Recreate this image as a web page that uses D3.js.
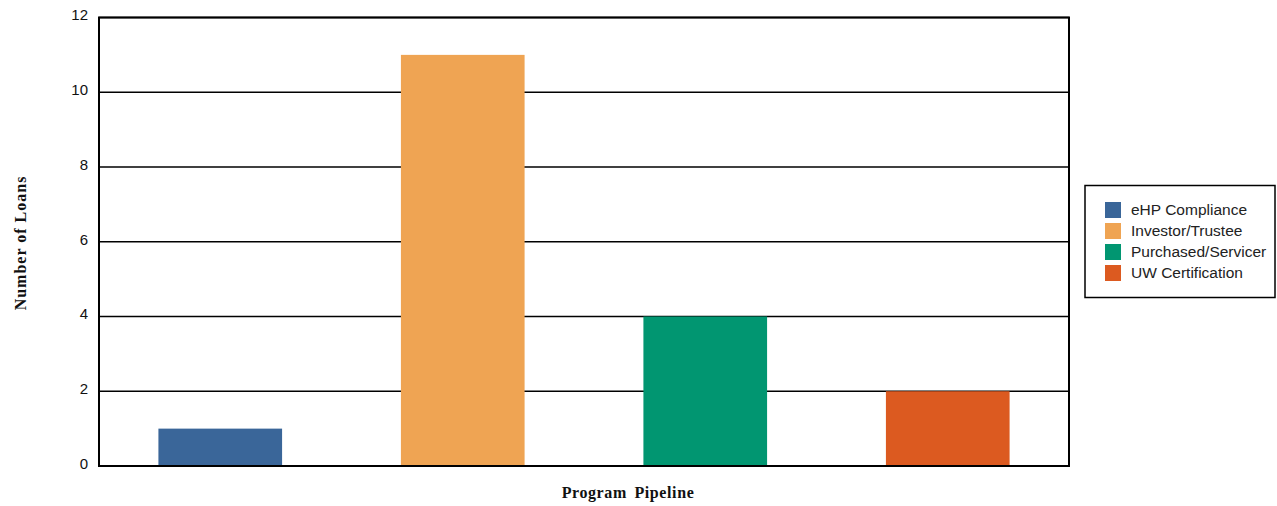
<!DOCTYPE html>
<html>
<head>
<meta charset="utf-8">
<script src="https://cdn.jsdelivr.net/npm/d3@7"></script>
<style>
  html, body { margin: 0; padding: 0; background: #fff; }
  svg { display: block; }
</style>
</head>
<body>
<svg id="chart" width="1277" height="506"></svg>
<script>
// Loan counts per program pipeline stage
const categories = ["eHP Compliance", "Investor/Trustee", "Purchased/Servicer", "UW Certification"];
const loanCounts = [1, 11, 4, 2];
const barColors = ["#3A6699", "#EFA453", "#019671", "#DC5A20"];
const yTicks = [0, 2, 4, 6, 8, 10, 12];

const svg = d3.select("#chart");
const plot = { left: 99, right: 1069, top: 17.5, bottom: 466 };

const x = d3.scaleBand()
  .domain(categories)
  .range([plot.left, plot.right])
  .paddingInner(0.49)
  .paddingOuter(0.245);

const y = d3.scaleLinear()
  .domain([0, 12])
  .range([plot.bottom, plot.top]);

// Horizontal gridlines
svg.append("g")
  .selectAll("line")
  .data(yTicks)
  .join("line")
  .attr("x1", plot.left)
  .attr("x2", plot.right)
  .attr("y1", d => y(d))
  .attr("y2", d => y(d))
  .attr("stroke", "#000")
  .attr("stroke-width", 1.5);

// Bars
svg.append("g")
  .selectAll("rect")
  .data(categories)
  .join("rect")
  .attr("x", d => x(d))
  .attr("width", x.bandwidth())
  .attr("y", (d, i) => y(loanCounts[i]))
  .attr("height", (d, i) => y(0) - y(loanCounts[i]))
  .attr("fill", (d, i) => barColors[i]);

// Plot frame
svg.append("rect")
  .attr("x", plot.left)
  .attr("y", plot.top)
  .attr("width", plot.right - plot.left)
  .attr("height", plot.bottom - plot.top)
  .attr("fill", "none")
  .attr("stroke", "#000")
  .attr("stroke-width", 2);

// Y axis labels
const yAxis = d3.axisLeft(y)
  .tickValues(yTicks)
  .tickSize(0)
  .tickPadding(11)
  .tickFormat(d3.format("d"));

const yAxisG = svg.append("g")
  .attr("transform", `translate(${plot.left},0)`)
  .call(yAxis);
yAxisG.select(".domain").remove();
yAxisG.selectAll("text")
  .attr("font-family", "Liberation Sans, Arial, sans-serif")
  .attr("font-size", 15)
  .attr("fill", "#111")
  .attr("dy", "0.15em");

// Axis titles
svg.append("text")
  .attr("transform", "translate(26,243) rotate(-90)")
  .attr("text-anchor", "middle")
  .attr("font-family", "Liberation Serif, Times New Roman, serif")
  .attr("font-weight", "bold")
  .attr("font-size", 16)
  .attr("letter-spacing", 1)
  .attr("fill", "#111")
  .text("Number of Loans");

svg.append("text")
  .attr("x", 628)
  .attr("y", 498)
  .attr("text-anchor", "middle")
  .attr("font-family", "Liberation Serif, Times New Roman, serif")
  .attr("font-weight", "bold")
  .attr("font-size", 16)
  .attr("letter-spacing", 0.6)
  .attr("word-spacing", 3)
  .attr("fill", "#111")
  .text("Program Pipeline");

// Legend
const legend = svg.append("g");
legend.append("rect")
  .attr("x", 1085)
  .attr("y", 185.5)
  .attr("width", 190)
  .attr("height", 112)
  .attr("fill", "#fff")
  .attr("stroke", "#000")
  .attr("stroke-width", 1.5);

const items = legend.selectAll("g.item")
  .data(categories)
  .join("g")
  .attr("class", "item")
  .attr("transform", (d, i) => `translate(1105,${202 + i * 21})`);

items.append("rect")
  .attr("width", 16)
  .attr("height", 16)
  .attr("fill", (d, i) => barColors[i]);

items.append("text")
  .attr("x", 26)
  .attr("y", 8)
  .attr("dy", "0.35em")
  .attr("font-family", "Liberation Sans, Arial, sans-serif")
  .attr("font-size", 15.5)
  .attr("fill", "#222")
  .text(d => d);
</script>
</body>
</html>
